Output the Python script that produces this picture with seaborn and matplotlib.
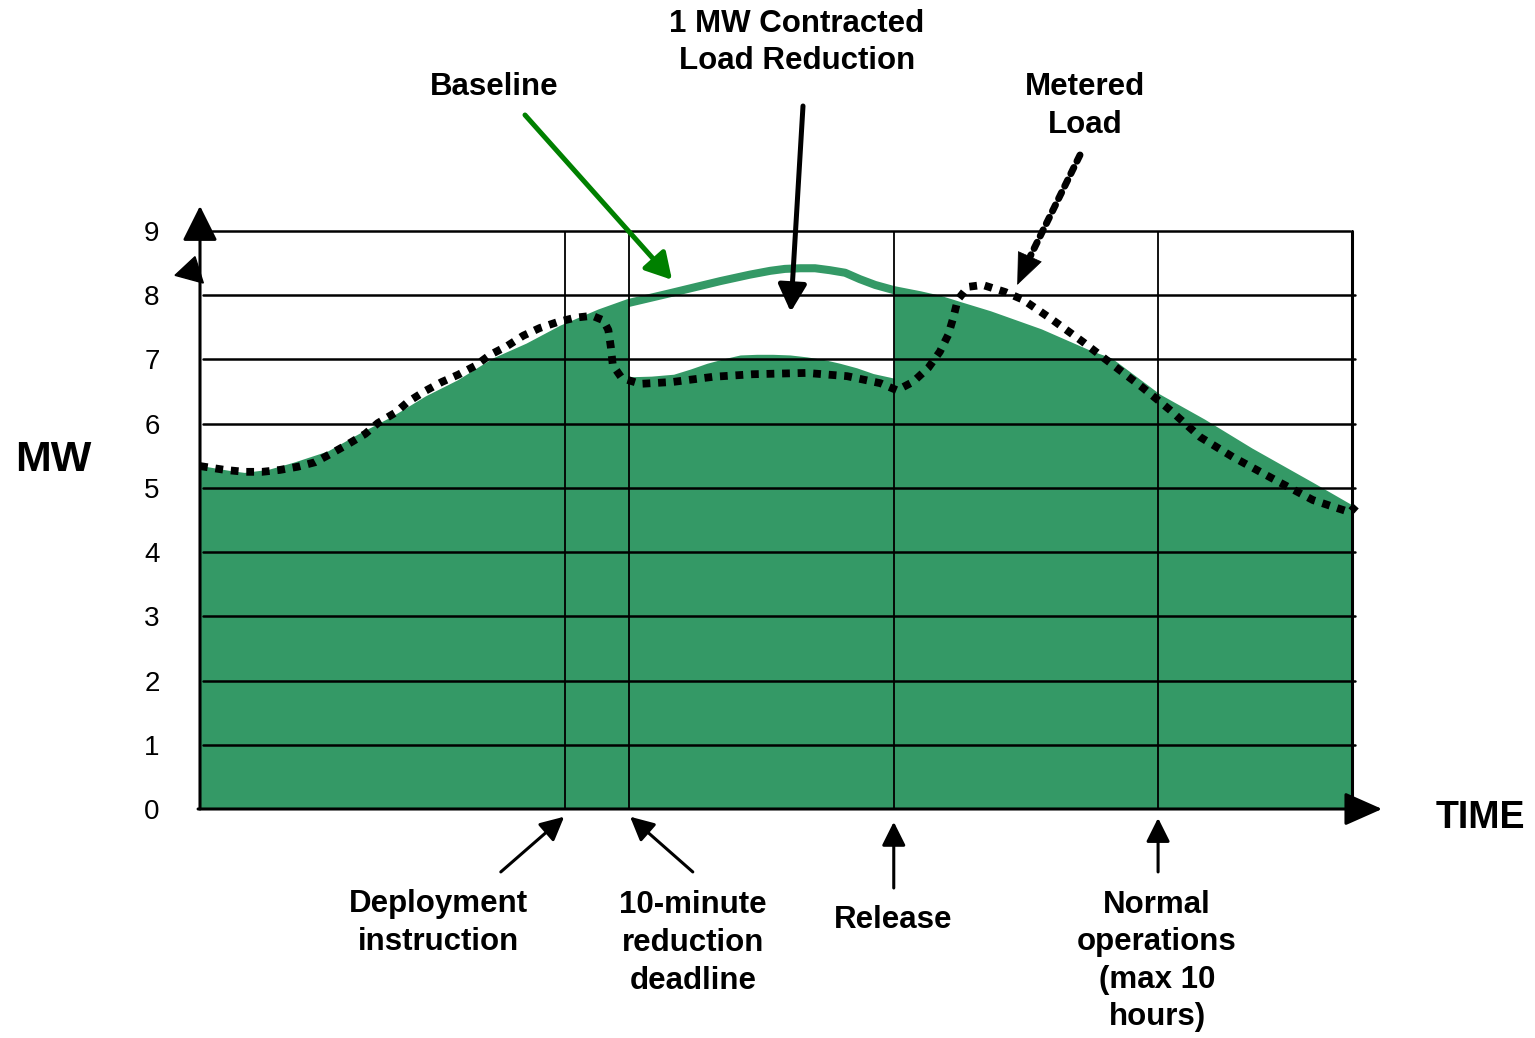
import matplotlib
matplotlib.use('Agg')
import matplotlib.pyplot as plt
import seaborn as sns

# values (x = time units, y = MW)
baseline_x = [0.00, 0.47, 0.70, 1.09, 1.48, 2.03, 2.53, 3.05, 3.56, 4.06, 4.61, 5.13, 5.66, 6.25,
              6.70, 7.34, 8.13, 8.59, 8.91, 9.14, 9.38, 9.61, 9.84, 10.08, 10.31, 10.55, 10.84,
              11.25, 11.56, 11.88, 12.34, 13.13, 13.91, 14.22, 14.97, 15.67, 16.41, 17.39, 18.00]
baseline_mw = [5.28, 5.20, 5.17, 5.22, 5.33, 5.51, 5.79, 6.06, 6.37, 6.62, 6.96, 7.19, 7.47, 7.72,
               7.88, 8.03, 8.22, 8.32, 8.38, 8.41, 8.42, 8.42, 8.39, 8.35, 8.25, 8.16, 8.08,
               8.00, 7.93, 7.83, 7.69, 7.41, 7.07, 6.96, 6.40, 6.01, 5.56, 5.01, 4.66]

# reduced load inside the deployment window (top of the green area)
reduced_x = [6.70, 7.05, 7.40, 7.66, 7.92, 8.18, 8.44, 8.70, 8.95, 9.22, 9.48, 9.74, 10.00,
             10.26, 10.52, 10.84]
reduced_mw = [6.73, 6.74, 6.77, 6.85, 6.94, 7.01, 7.07, 7.08, 7.08, 7.07, 7.04, 7.00, 6.94,
              6.87, 6.78, 6.71]

metered_x = [0.00, 0.39, 0.70, 0.97, 1.25, 1.53, 1.80, 2.06, 2.31, 2.58, 2.78, 3.05, 3.25, 3.52,
             3.78, 4.03, 4.30, 4.53, 4.80, 5.05, 5.31, 5.58, 5.86, 6.13, 6.30, 6.38, 6.42, 6.45,
             6.59, 6.88, 7.39, 8.02, 8.64, 9.48, 10.11, 10.63, 10.89, 11.14, 11.38, 11.56, 11.69,
             11.77, 11.84, 12.00, 12.23, 12.58, 12.86, 13.33, 13.80, 14.27, 14.73, 15.16, 15.63,
             16.14, 16.88, 17.39, 17.97, 18.06]
metered_mw = [5.34, 5.28, 5.25, 5.25, 5.28, 5.33, 5.40, 5.54, 5.68, 5.84, 6.01, 6.17, 6.34, 6.51,
              6.65, 6.76, 6.90, 7.07, 7.21, 7.37, 7.49, 7.58, 7.65, 7.68, 7.61, 7.46, 7.19, 6.91,
              6.71, 6.62, 6.65, 6.73, 6.77, 6.79, 6.74, 6.63, 6.52, 6.65, 6.87, 7.12, 7.38,
              7.65, 7.93, 8.13, 8.16, 8.05, 7.93, 7.61, 7.27, 6.91, 6.56, 6.21, 5.79,
              5.48, 5.08, 4.81, 4.62, 4.72]

mw_ticks = [0, 1, 2, 3, 4, 5, 6, 7, 8, 9]
event_x = [5.70, 6.70, 10.84, 14.97]
event_labels = ['Deployment\ninstruction', '10-minute\nreduction\ndeadline', 'Release',
                'Normal\noperations\n(max 10\nhours)']

GREEN = '#349966'
W, H = 1535, 1038

sns.set_theme(style='white')
plt.rcParams['font.family'] = ['Liberation Sans', 'DejaVu Sans']

fig = plt.figure(figsize=(W / 100, H / 100), dpi=100)
ax = fig.add_axes([200 / W, (H - 809) / H, 1152 / W, 578 / H])
ax.set_xlim(0, 18)
ax.set_ylim(0, 9)
for s in ax.spines.values():
    s.set_visible(False)


def fp(x, y):
    # pixel position in the picture (top-left origin) -> figure pixels
    return (x, H - y)


# green area: baseline outside the window, reduced load inside it
fill_x, fill_y = [], []
for x, y in zip(baseline_x, baseline_mw):
    if x <= reduced_x[0]:
        fill_x.append(x)
        fill_y.append(y)
fill_x += reduced_x
fill_y += reduced_mw
for x, y in zip(baseline_x, baseline_mw):
    if x >= reduced_x[-1]:
        fill_x.append(x)
        fill_y.append(y)
ax.fill_between(fill_x, 0, fill_y, color=GREEN, lw=0, zorder=1)

sns.lineplot(x=baseline_x, y=baseline_mw, color=GREEN, lw=5.8, estimator=None, sort=False,
             ax=ax, zorder=2, solid_capstyle='butt', solid_joinstyle='round')

# grid
for y in mw_ticks[1:-1]:
    ax.plot([0.05, 18.05], [y, y], color='black', lw=1.8, clip_on=False, zorder=3)
ax.plot([0.19, 17.97], [9, 9], color='black', lw=1.8, clip_on=False, zorder=3)
ax.vlines(event_x, 0, 9, color='black', lw=1.3, zorder=3)
ax.plot([18, 18], [0, 9], color='black', lw=2.2, clip_on=False, zorder=3)

# axes with arrow heads
ax.annotate('', xy=(0, 9.39), xytext=(0, 0),
            arrowprops=dict(arrowstyle='-|>,head_length=1.8,head_width=0.9', color='black',
                            lw=2.2, shrinkA=0, shrinkB=0), annotation_clip=False, zorder=5)
ax.annotate('', xy=(18.47, 0), xytext=(-0.03, 0),
            arrowprops=dict(arrowstyle='-|>,head_length=1.94,head_width=0.86', color='black',
                            lw=2.2, shrinkA=0, shrinkB=0), annotation_clip=False, zorder=5)
ax.fill([-0.078, -0.39, 0.052], [8.60, 8.31, 8.19], color='black', clip_on=False, zorder=5)

sns.lineplot(x=metered_x, y=metered_mw, color='black', lw=5.6, estimator=None, sort=False,
             ax=ax, zorder=4, linestyle=(0, (1, 1)), dash_capstyle='butt')
ax.lines[-1].set_clip_on(False)

ax.set_yticks(mw_ticks)
ax.set_yticklabels([str(t) for t in mw_ticks], fontsize=20, color='black')
ax.tick_params(axis='y', length=0, pad=29)
ax.set_xticks([])
ax.set_xlabel('')
ax.set_ylabel('')

# callout arrows at the top
ax.annotate('', xy=(7.375, 8.24), xytext=fp(525, 115), textcoords='figure pixels',
            arrowprops=dict(arrowstyle='-|>,head_length=1.3,head_width=0.74', color='#008000',
                            lw=3.6, shrinkA=0, shrinkB=0), annotation_clip=False, zorder=6)
ax.annotate('', xy=(9.23, 7.74), xytext=fp(803, 106), textcoords='figure pixels',
            arrowprops=dict(arrowstyle='-|>,head_length=1.37,head_width=0.72', color='black',
                            lw=3.6, shrinkA=0, shrinkB=0), annotation_clip=False, zorder=6)
# dotted shaft + solid head for the metered load callout
ax.annotate('', xy=fp(1026, 265), xytext=fp(1080, 155), xycoords='figure pixels',
            textcoords='figure pixels',
            arrowprops=dict(arrowstyle='-', color='black', lw=5.0, linestyle=(0, (1, 1)),
                            shrinkA=0, shrinkB=0), annotation_clip=False, zorder=6)
ax.annotate('', xy=(12.77, 8.16), xytext=fp(1027, 263), textcoords='figure pixels',
            arrowprops=dict(arrowstyle='-|>,head_length=1.8,head_width=0.75', color='black',
                            lw=0.5, shrinkA=0, shrinkB=0), annotation_clip=False, zorder=6)

# event arrows below the time axis
tails = [(4.70, -0.98), (7.70, -0.98), (10.84, -1.23), (14.97, -0.98)]
tips = [(5.69, -0.12), (6.72, -0.12), (10.84, -0.20), (14.97, -0.14)]
for tip, tail in zip(tips, tails):
    ax.annotate('', xy=tip, xytext=tail,
                arrowprops=dict(arrowstyle='-|>,head_length=1.2,head_width=0.6', color='black',
                                lw=2.2, shrinkA=0, shrinkB=0), annotation_clip=False)

# labels
bold = dict(fontsize=22.5, fontweight='bold', ha='center', va='center', color='black',
            linespacing=1.33)
text_pos = [(438, 923), (693, 943), (893, 920), (1157, 961)]
for lab, (px, py) in zip(event_labels, text_pos):
    fig.text(px / W, 1 - py / H, lab, **bold)
fig.text(797 / W, 1 - 42.5 / H, '1 MW Contracted\nLoad Reduction', **bold)
fig.text(494 / W, 1 - 87 / H, 'Baseline', **bold)
fig.text(1085 / W, 1 - 106 / H, 'Metered\nLoad', **bold)
fig.text(53 / W, 1 - 460 / H, 'MW', fontsize=31, fontweight='bold', ha='center', va='center',
         color='black')
fig.text(1480 / W, 1 - 818 / H, 'TIME', fontsize=27, fontweight='bold', ha='center',
         va='center', color='black')

fig.savefig('out.png', dpi=100)
